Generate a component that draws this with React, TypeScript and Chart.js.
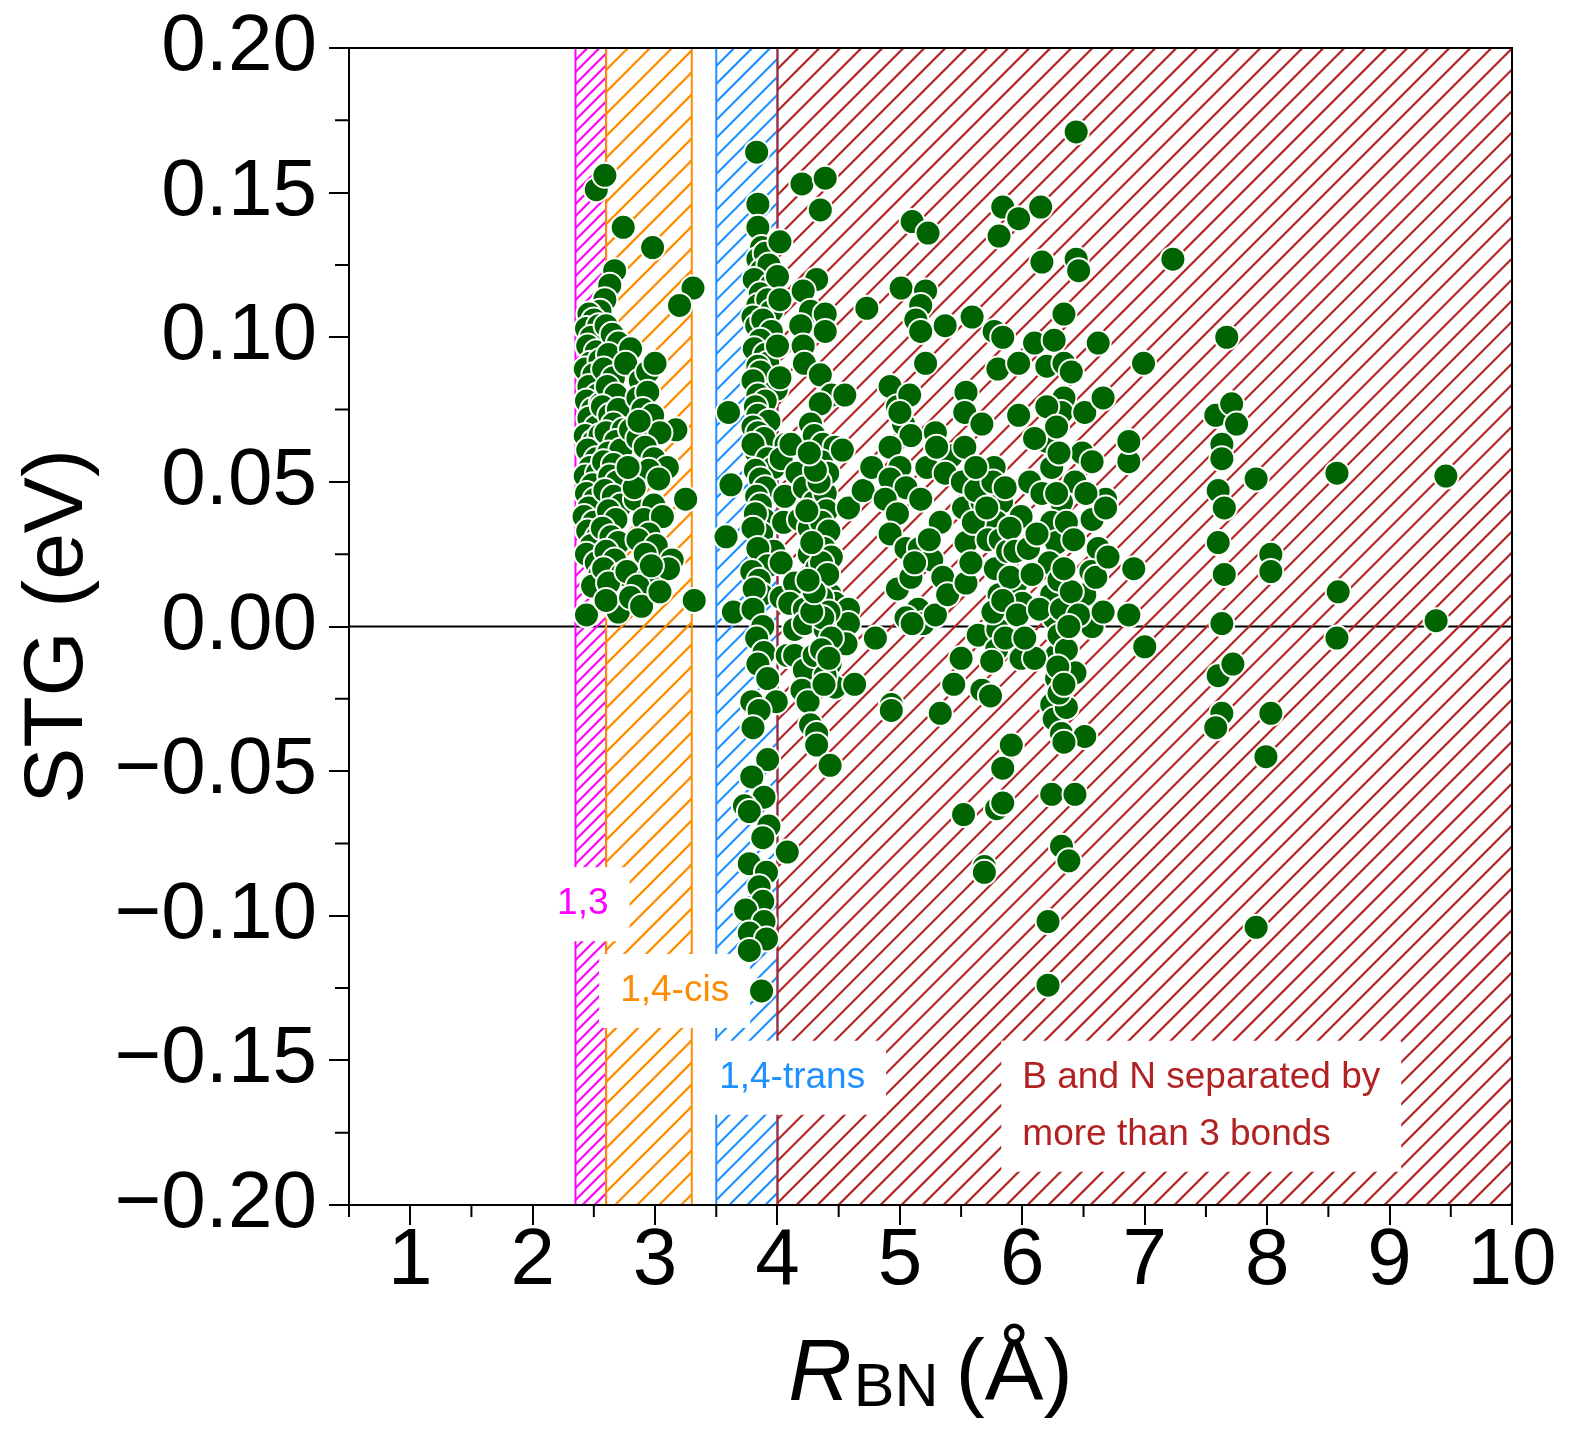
import { useEffect, useRef } from 'react';
import { Chart, registerables } from 'chart.js';

Chart.register(...registerables);

// axis ticks
const xTickValues = [1, 2, 3, 4, 5, 6, 7, 8, 9, 10];
const xMinorValues = [0.5, 1.5, 2.5, 3.5, 4.5, 5.5, 6.5, 7.5, 8.5, 9.5];
const yTickValues = [-0.2, -0.15, -0.1, -0.05, 0, 0.05, 0.1, 0.15, 0.2];
const yMinorValues = [-0.175, -0.125, -0.075, -0.025, 0.025, 0.075, 0.125, 0.175];

// bond-separation regions (R_BN ranges)
const regionBounds = [[2.35, 2.6], [2.6, 3.3], [3.5, 4.0], [4.0, 10]];
const regionLabels = [['1,3'], ['1,4-cis'], ['1,4-trans'], ['B and N separated by', 'more than 3 bonds']];

// [R_BN (Å), STG (eV)]
const cis13Points = [
  [2.52, 0.151], [2.59, 0.156], [2.74, 0.138], [2.98, 0.131], [2.67, 0.123], [2.63, 0.118], [2.59, 0.113],
  [2.55, 0.109], [3.31, 0.117], [3.20, 0.111],
  [2.46, 0.108], [2.50, 0.106], [2.44, 0.103], [2.54, 0.104], [2.48, 0.100], [2.45, 0.097], [2.52, 0.095],
  [2.47, 0.091], [2.43, 0.089], [2.55, 0.092], [2.50, 0.087], [2.46, 0.083], [2.53, 0.080], [2.44, 0.078],
  [2.49, 0.075], [2.56, 0.077], [2.46, 0.072], [2.52, 0.069], [2.43, 0.066], [2.50, 0.064], [2.55, 0.066],
  [2.45, 0.061], [2.52, 0.058], [2.47, 0.055], [2.43, 0.052], [2.53, 0.053], [2.49, 0.049], [2.44, 0.046],
  [2.51, 0.044], [2.46, 0.041], [2.42, 0.038], [2.50, 0.036], [2.45, 0.033], [2.53, 0.031], [2.48, 0.028],
  [2.44, 0.025], [2.52, 0.022], [2.55, 0.018], [2.49, 0.014], [2.44, 0.004],
];

const cis14Points = [
  [2.60, 0.104], [2.65, 0.101], [2.70, 0.098], [2.62, 0.094], [2.58, 0.089], [2.66, 0.086], [2.61, 0.083],
  [2.68, 0.080], [2.57, 0.076], [2.63, 0.073], [2.70, 0.075], [2.66, 0.070], [2.60, 0.067], [2.74, 0.068],
  [2.68, 0.064], [2.62, 0.060], [2.72, 0.061], [2.58, 0.057], [2.66, 0.056], [2.63, 0.052], [2.69, 0.050],
  [2.59, 0.047], [2.66, 0.045], [2.72, 0.042], [2.62, 0.040], [2.68, 0.037], [2.57, 0.034], [2.64, 0.031],
  [2.70, 0.029], [2.60, 0.026], [2.67, 0.023], [2.58, 0.020], [2.73, 0.018], [2.62, 0.015], [2.70, 0.005],
  [2.60, 0.009], [2.80, 0.096], [2.76, 0.091],
  [2.88, 0.085], [2.94, 0.088], [3.00, 0.091], [2.86, 0.079], [2.94, 0.081], [2.90, 0.075], [2.98, 0.073],
  [3.17, 0.068], [2.80, 0.068], [2.86, 0.065], [3.04, 0.067], [2.92, 0.062], [2.99, 0.058], [3.10, 0.055],
  [2.95, 0.054], [3.03, 0.051], [2.84, 0.044], [2.99, 0.042], [3.25, 0.044], [2.91, 0.037], [3.06, 0.038],
  [2.95, 0.032], [2.86, 0.030], [3.01, 0.028], [2.92, 0.025], [3.14, 0.023], [2.77, 0.019], [2.95, 0.017],
  [3.11, 0.020], [2.86, 0.014], [2.80, 0.010], [2.89, 0.007], [3.04, 0.012], [3.32, 0.009], [2.97, 0.021],
  [2.83, 0.048], [2.78, 0.055], [2.87, 0.071],
];

const trans14Points = [
  [3.83, 0.164], [3.84, 0.146], [3.84, 0.138], [3.87, 0.131], [3.84, 0.127], [3.90, 0.129], [3.87, 0.123],
  [3.93, 0.125], [3.81, 0.120], [3.95, 0.118], [3.86, 0.115], [3.84, 0.111], [3.92, 0.113], [3.95, 0.109],
  [3.80, 0.107], [3.83, 0.104], [3.88, 0.106], [3.95, 0.102], [3.86, 0.099], [3.81, 0.096], [3.90, 0.094],
  [3.92, 0.091], [3.84, 0.090], [3.86, 0.088], [3.80, 0.085], [3.99, 0.082], [3.84, 0.080], [3.90, 0.078],
  [3.82, 0.076], [3.60, 0.074], [3.84, 0.073], [3.93, 0.071], [3.80, 0.069], [3.84, 0.067], [3.89, 0.065],
  [3.83, 0.060], [3.80, 0.063], [3.92, 0.058], [3.97, 0.055], [3.82, 0.054], [3.86, 0.051], [3.62, 0.049],
  [3.90, 0.048], [3.83, 0.045], [3.86, 0.042], [3.89, 0.037], [3.82, 0.039], [3.87, 0.032], [3.80, 0.034],
  [3.58, 0.031], [3.97, 0.026], [3.84, 0.027], [3.92, 0.021], [3.79, 0.019], [3.85, 0.016], [3.87, 0.011],
  [3.81, 0.013], [3.64, 0.005], [3.80, 0.006], [3.88, 0.000], [3.83, -0.004], [3.89, -0.009], [3.84, -0.013],
  [3.92, -0.018], [3.79, -0.026], [3.99, -0.026], [3.85, -0.029], [3.80, -0.035], [3.92, -0.046], [3.79, -0.052],
  [3.89, -0.059], [3.73, -0.062], [3.77, -0.064], [3.93, -0.069], [3.88, -0.073], [3.77, -0.082], [3.91, -0.085],
  [3.85, -0.090], [3.88, -0.095], [3.74, -0.098], [3.89, -0.102], [3.77, -0.106], [3.91, -0.108], [3.77, -0.112],
  [3.87, -0.126],
];

const farPointsA = [
  [4.02, 0.133], [4.00, 0.121], [4.02, 0.113], [4.00, 0.097], [4.02, 0.086], [4.07, 0.063], [4.06, 0.045],
  [4.03, 0.058], [4.05, 0.036], [4.03, 0.022], [4.03, 0.010], [4.14, 0.015], [4.10, 0.008], [4.14, -0.001],
  [4.08, -0.010], [4.14, -0.010], [4.22, -0.015], [4.20, -0.022], [4.25, -0.026], [4.27, -0.034], [4.32, -0.037],
  [4.32, -0.041], [4.43, -0.048], [4.08, -0.078],
  [4.20, 0.153], [4.39, 0.155], [4.35, 0.144], [4.32, 0.120], [4.21, 0.116], [4.27, 0.109], [4.39, 0.108],
  [4.39, 0.102], [4.19, 0.104], [4.21, 0.097], [4.22, 0.091], [4.35, 0.087], [4.44, 0.080], [4.35, 0.077],
  [4.27, 0.070], [4.30, 0.066], [4.37, 0.063], [4.47, 0.062], [4.11, 0.063], [4.16, 0.053], [4.22, 0.048],
  [4.30, 0.043], [4.39, 0.046], [4.18, 0.037], [4.26, 0.034], [4.35, 0.030], [4.26, 0.025], [4.32, 0.020],
  [4.39, 0.015], [4.43, 0.011], [4.47, 0.008], [4.22, 0.006], [4.22, 0.001], [4.39, -0.001], [4.47, -0.006],
  [4.30, -0.010], [4.43, -0.013], [4.47, -0.021], [4.39, -0.017], [4.58, 0.006], [4.58, 0.001], [4.56, -0.006],
  [4.63, -0.020],
  [4.36, 0.057], [4.41, 0.053], [4.34, 0.050], [4.40, 0.040], [4.36, 0.036], [4.42, 0.033], [4.38, 0.027],
  [4.44, 0.024], [4.36, 0.022], [4.41, 0.018], [4.36, 0.010], [4.42, 0.005], [4.37, 0.003], [4.44, -0.004],
  [4.36, -0.008], [4.42, -0.011], [4.38, -0.020], [4.28, 0.005], [4.30, 0.012], [4.25, 0.016], [4.28, 0.029],
  [4.24, 0.040], [4.31, 0.054], [4.26, 0.060],
];

const farPointsB = [
  [4.73, 0.110], [4.55, 0.080], [4.53, 0.061], [4.58, 0.041], [4.70, 0.047], [4.77, 0.055], [4.80, -0.004],
  [4.93, -0.027], [4.93, -0.029], [4.92, 0.083], [4.98, 0.076], [5.03, 0.070], [5.09, 0.066], [5.01, 0.117],
  [5.21, 0.116], [5.17, 0.111], [5.10, 0.140], [5.23, 0.136], [5.13, 0.106], [5.17, 0.102], [5.21, 0.091],
  [5.37, 0.104], [4.92, 0.062], [5.00, 0.055], [4.92, 0.051], [5.05, 0.048], [4.88, 0.044], [4.98, 0.039],
  [4.92, 0.032], [5.05, 0.027], [4.98, 0.013], [5.17, 0.044], [5.16, 0.027], [5.09, 0.017], [5.15, 0.006],
  [5.05, 0.003], [5.19, 0.001], [5.29, 0.004], [5.22, 0.055], [5.29, 0.067], [5.42, 0.059], [5.37, 0.053],
  [5.33, 0.036], [5.26, 0.023], [5.35, 0.017], [5.39, 0.011], [5.33, -0.030], [5.44, -0.020], [5.50, -0.011],
  [5.12, 0.022], [5.24, 0.030], [5.10, 0.001], [5.30, 0.062], [5.08, 0.080], [5.00, 0.074],
  [5.54, 0.029], [5.54, 0.015], [5.51, 0.050], [5.52, 0.041], [5.54, 0.081], [5.53, 0.074], [5.53, 0.062],
  [5.59, 0.107], [5.67, 0.070], [5.67, 0.043], [5.64, -0.003], [5.67, -0.022], [5.52, -0.065], [5.69, -0.083],
  [5.69, -0.085], [5.77, 0.102], [5.81, 0.135], [5.84, 0.145], [5.97, 0.141], [5.84, 0.100], [5.80, 0.089],
  [5.77, 0.055], [5.83, 0.043], [5.79, 0.036], [5.85, 0.022], [5.81, 0.011], [5.83, 0.004], [5.80, -0.001],
  [5.79, -0.008], [5.74, -0.024], [5.79, -0.063], [5.84, -0.061], [5.84, -0.049], [5.91, -0.041], [5.95, 0.015],
  [5.97, 0.091], [5.97, 0.073], [5.99, 0.038], [6.00, 0.008], [5.99, -0.011], [5.60, 0.036], [5.62, 0.047],
  [5.72, 0.030], [5.76, 0.050], [5.78, 0.020], [5.82, 0.030], [5.86, 0.048], [5.88, 0.026], [5.90, 0.034],
  [5.76, 0.005], [5.86, -0.004], [5.90, 0.017], [5.75, -0.012], [5.84, 0.009], [5.71, 0.041], [5.58, 0.022],
  [5.62, 0.055], [5.94, 0.026], [5.96, 0.004],
];

const farPointsC = [
  [6.20, 0.064], [6.10, 0.098], [6.16, 0.126], [6.15, 0.145], [6.20, 0.090], [6.26, 0.099], [6.34, 0.108],
  [6.34, 0.091], [6.34, 0.079], [6.32, 0.074], [6.20, 0.076], [6.28, 0.069], [6.24, 0.055], [6.32, 0.043],
  [6.24, 0.036], [6.28, 0.029], [6.22, 0.022], [6.24, 0.011], [6.26, 0.003], [6.28, -0.010], [6.24, -0.027],
  [6.26, -0.032], [6.32, -0.037], [6.10, -0.011], [6.21, -0.102], [6.21, -0.124], [6.24, -0.058], [6.32, -0.076],
  [6.38, -0.081], [6.43, -0.058], [6.44, 0.171], [6.44, 0.127], [6.46, 0.123], [6.40, 0.088], [6.51, 0.074],
  [6.49, 0.060], [6.57, 0.057], [6.43, 0.050], [6.62, 0.098], [6.66, 0.079], [6.57, 0.037], [6.68, 0.044],
  [6.62, 0.027], [6.56, 0.019], [6.51, 0.011], [6.57, 0.000], [6.43, -0.016], [6.51, -0.038], [6.36, -0.028],
  [6.34, -0.040], [6.06, 0.050], [6.05, 0.027], [6.08, 0.018], [6.12, 0.032], [6.14, 0.006], [6.10, 0.065],
  [6.16, 0.046], [6.30, 0.060], [6.28, 0.046], [6.36, 0.036], [6.30, 0.016], [6.32, 0.006], [6.30, -0.003],
  [6.28, -0.018], [6.30, -0.023], [6.36, -0.008], [6.29, -0.014], [6.42, 0.030], [6.40, 0.012], [6.46, 0.004],
  [6.52, 0.046], [6.60, 0.017], [6.68, 0.041], [6.70, 0.024], [6.66, 0.005], [6.02, -0.004], [6.38, 0.000],
  [6.34, 0.020], [6.34, -0.020],
];

const farPointsD = [
  [6.87, 0.057], [6.87, 0.064], [6.91, 0.020], [6.87, 0.004], [7.00, -0.007], [6.99, 0.091], [7.23, 0.127],
  [7.67, 0.100], [7.58, 0.073], [7.71, 0.077], [7.75, 0.070], [7.63, 0.063], [7.63, 0.058], [7.60, 0.047],
  [7.65, 0.041], [7.60, 0.029], [7.65, 0.018], [7.63, 0.001], [7.60, -0.017], [7.72, -0.013], [7.63, -0.030],
  [7.58, -0.035], [7.91, 0.051], [8.03, 0.025], [8.03, 0.019], [8.03, -0.030], [7.99, -0.045], [7.91, -0.104],
  [8.57, 0.053], [8.58, 0.012], [8.57, -0.004], [9.38, 0.002], [9.46, 0.052],
];

// styling
const FONT = '"Liberation Sans", Arial, Helvetica, sans-serif';
const regionColors = ['#ff00ff', '#ff8c00', '#1e90ff', '#b22222'];
const hatchSpacing = [12, 22, 18, 21];
const labelAnchors: [number, number, CanvasTextAlign][] = [
  [2.41, -0.096, 'center'],
  [3.16, -0.126, 'center'],
  [4.12, -0.156, 'center'],
  [6.0, -0.156, 'left'],
];

const fmtY = (v: number) => {
  if (Math.abs(v) < 1e-9) return '0.00';
  return (v < 0 ? '\u2212' : '') + Math.abs(v).toFixed(2);
};

const decorPlugin = {
  id: 'decor',
  beforeDatasetsDraw(chart: any) {
    const { ctx, chartArea: a, scales } = chart;
    const xs = scales.x;
    const ys = scales.y;
    ctx.save();

    // zero line
    const y0 = ys.getPixelForValue(0);
    ctx.strokeStyle = '#000';
    ctx.lineWidth = 2;
    ctx.beginPath();
    ctx.moveTo(a.left, y0);
    ctx.lineTo(a.right, y0);
    ctx.stroke();

    // hatched regions
    regionBounds.forEach(([lo, hi], i) => {
      const x0 = xs.getPixelForValue(lo);
      const x1 = xs.getPixelForValue(hi);
      const h = a.bottom - a.top;
      ctx.save();
      ctx.beginPath();
      ctx.rect(x0, a.top, x1 - x0, h);
      ctx.clip();
      ctx.strokeStyle = regionColors[i];
      ctx.lineWidth = 2.2;
      ctx.beginPath();
      for (let k = -h; k < x1 - x0 + hatchSpacing[i]; k += hatchSpacing[i]) {
        ctx.moveTo(x0 + k, a.bottom);
        ctx.lineTo(x0 + k + h, a.top);
      }
      ctx.stroke();
      ctx.restore();
      ctx.strokeStyle = regionColors[i];
      ctx.lineWidth = 2;
      ctx.beginPath();
      ctx.moveTo(x0, a.top);
      ctx.lineTo(x0, a.bottom);
      ctx.moveTo(x1, a.top);
      ctx.lineTo(x1, a.bottom);
      ctx.stroke();
    });

    // region labels on white boxes
    ctx.font = `37px ${FONT}`;
    ctx.textBaseline = 'middle';
    const lineGap = 57;
    regionLabels.forEach((lines, i) => {
      const [lx, ly, align] = labelAnchors[i];
      const px = xs.getPixelForValue(lx);
      const py = ys.getPixelForValue(ly);
      const w = Math.max(...lines.map((t) => ctx.measureText(t).width));
      const left = align === 'center' ? px - w / 2 : px;
      ctx.fillStyle = '#fff';
      ctx.fillRect(left - 21, py - 37, w + 42, (lines.length - 1) * lineGap + 74);
      ctx.fillStyle = regionColors[i];
      ctx.textAlign = 'left';
      lines.forEach((t, j) => ctx.fillText(t, left, py + j * lineGap));
    });
    ctx.restore();
  },
  afterDraw(chart: any) {
    const { ctx, chartArea: a, scales } = chart;
    const xs = scales.x;
    const ys = scales.y;
    ctx.save();
    ctx.strokeStyle = '#000';
    ctx.lineWidth = 2;
    ctx.strokeRect(a.left, a.top, a.right - a.left, a.bottom - a.top);

    // minor ticks
    ctx.beginPath();
    xMinorValues.forEach((v) => {
      const p = xs.getPixelForValue(v);
      ctx.moveTo(p, a.bottom);
      ctx.lineTo(p, a.bottom + 12);
    });
    yMinorValues.forEach((v) => {
      const p = ys.getPixelForValue(v);
      ctx.moveTo(a.left - 14, p);
      ctx.lineTo(a.left, p);
    });
    ctx.stroke();

    // y title
    ctx.fillStyle = '#000';
    ctx.save();
    ctx.translate(74, (a.top + a.bottom) / 2);
    ctx.rotate(-Math.PI / 2);
    ctx.font = `84px ${FONT}`;
    ctx.textAlign = 'center';
    ctx.textBaseline = 'alphabetic';
    ctx.fillText('STG (eV)', 0, 0);
    ctx.restore();

    // x title: R_BN (Å)
    const mainFont = `88px ${FONT}`;
    const italFont = `italic 88px ${FONT}`;
    const subFont = `61px ${FONT}`;
    ctx.textBaseline = 'alphabetic';
    ctx.textAlign = 'left';
    ctx.font = italFont;
    const wR = ctx.measureText('R').width;
    ctx.font = subFont;
    const wSub = ctx.measureText('BN').width;
    const wSp = ctx.measureText(' ').width;
    ctx.font = mainFont;
    const wTail = ctx.measureText('(\u00c5)').width;
    const total = wR + 2 + wSub + wSp + wTail;
    let cx = (a.left + a.right) / 2 - total / 2;
    const base = 1392;
    ctx.font = italFont;
    ctx.fillText('R', cx, base);
    cx += wR + 2;
    ctx.font = subFont;
    ctx.fillText('BN', cx, base + 6);
    cx += wSub + wSp;
    ctx.font = mainFont;
    ctx.fillText('(\u00c5)', cx, base);
    ctx.restore();
  },
};

export default function App() {
  const canvasRef = useRef<HTMLCanvasElement>(null);
  const chartRef = useRef<Chart | null>(null);

  useEffect(() => {
    if (!canvasRef.current) return;
    if (chartRef.current) chartRef.current.destroy();

    const allPoints = [...cis13Points, ...cis14Points, ...trans14Points, ...farPointsA, ...farPointsB, ...farPointsC, ...farPointsD];

    chartRef.current = new Chart(canvasRef.current, {
      type: 'scatter',
      data: {
        datasets: [
          {
            data: allPoints.map(([x, y]) => ({ x, y })),
            backgroundColor: '#006400',
            borderColor: '#ffffff',
            borderWidth: 2,
            pointRadius: 12.5,
            pointHoverRadius: 12.5,
          },
        ],
      },
      options: {
        animation: false,
        responsive: true,
        maintainAspectRatio: false,
        layout: { padding: { top: 40, right: 58, left: 0, bottom: 0 } },
        plugins: {
          legend: { display: false },
          tooltip: { enabled: false },
        },
        scales: {
          x: {
            type: 'linear',
            min: 0.5,
            max: 10,
            afterBuildTicks: (axis: any) => {
              axis.ticks = xTickValues.map((v) => ({ value: v }));
            },
            afterFit: (axis: any) => {
              axis.height = 224;
              axis.paddingLeft = 0;
              axis.paddingRight = 0;
            },
            grid: { drawOnChartArea: false, drawTicks: true, tickLength: 20, lineWidth: 2, color: '#000' },
            border: { display: false },
            ticks: {
              color: '#000',
              font: { family: FONT, size: 80, lineHeight: 1 },
              padding: -3,
              maxRotation: 0,
              autoSkip: false,
              callback: (v: any) => String(v),
            },
          },
          y: {
            type: 'linear',
            min: -0.2,
            max: 0.2,
            afterBuildTicks: (axis: any) => {
              axis.ticks = yTickValues.map((v) => ({ value: v }));
            },
            afterFit: (axis: any) => {
              axis.width = 341;
              axis.paddingTop = 0;
              axis.paddingBottom = 0;
            },
            grid: { drawOnChartArea: false, drawTicks: true, tickLength: 20, lineWidth: 2, color: '#000' },
            border: { display: false },
            ticks: {
              color: '#000',
              font: { family: FONT, size: 80, lineHeight: 1 },
              padding: 12,
              autoSkip: false,
              callback: (v: any) => fmtY(Number(v)),
            },
          },
        },
      },
      plugins: [decorPlugin],
    });

    return () => {
      if (chartRef.current) {
        chartRef.current.destroy();
        chartRef.current = null;
      }
    };
  }, []);

  return (
    <div style={{ width: 1562, height: 1421 }}>
      <canvas ref={canvasRef} />
    </div>
  );
}
